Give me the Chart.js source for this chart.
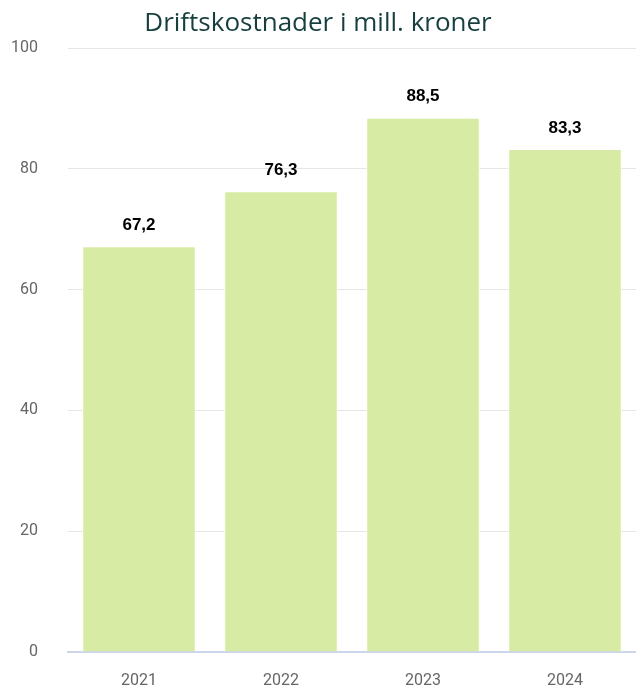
<!DOCTYPE html>
<html>
<head>
<meta charset="utf-8">
<script src="https://cdn.jsdelivr.net/npm/chart.js@4"></script>
<style>
  html, body { margin: 0; padding: 0; background: #fff; overflow: hidden; }
  canvas { display: block; }
</style>
</head>
<body>
<canvas id="costChart" width="636" height="686"></canvas>
<script>
const years = ['2021', '2022', '2023', '2024'];
const costs = [67.2, 76.3, 88.5, 83.3];
const yTicks = [0, 20, 40, 60, 80, 100];

// verdier over søylene, med komma som desimaltegn
const valueLabels = {
    id: 'valueLabels',
    afterDatasetsDraw(chart) {
        const ctx = chart.ctx;
        const meta = chart.getDatasetMeta(0);
        ctx.save();
        ctx.font = 'bold 17px "Liberation Sans", Arial, sans-serif';
        ctx.fillStyle = '#000';
        ctx.textAlign = 'center';
        ctx.textBaseline = 'middle';
        meta.data.forEach((bar, i) => {
            ctx.fillText(costs[i].toFixed(1).replace('.', ','), bar.x, bar.y - 21);
        });
        ctx.restore();
    }
};

const ctx = document.getElementById('costChart').getContext('2d');

const costChart = new Chart(ctx, {
    type: 'bar',
    data: {
        labels: years,
        datasets: [{
            label: 'Driftskostnader',
            data: costs,
            backgroundColor: '#d8eba4',
            borderColor: '#ffffff',
            borderWidth: 1,
            categoryPercentage: 1,
            barPercentage: 0.8
        }]
    },
    options: {
        responsive: false,
        animation: false,
        plugins: {
            legend: { display: false },
            tooltip: { enabled: false },
            title: {
                display: true,
                text: 'Driftskostnader i mill. kroner',
                color: '#173f3f',
                font: { family: '"Open Sans", sans-serif', size: 26, weight: 'normal' },
                padding: { top: 8, bottom: 9 }
            }
        },
        scales: {
            x: {
                grid: { display: false },
                border: { color: '#ccd6eb', width: 2 },
                ticks: {
                    color: '#666',
                    font: { family: 'Roboto, sans-serif', size: 16 },
                    padding: 11
                },
                afterFit(scale) { scale.height = 34; }
            },
            y: {
                min: 0,
                max: 100,
                afterBuildTicks(scale) { scale.ticks = yTicks.map(v => ({ value: v })); },
                grid: { color: '#e6e6e6', drawTicks: false },
                border: { display: false },
                ticks: {
                    color: '#666',
                    font: { family: 'Roboto, sans-serif', size: 16 },
                    padding: 30
                },
                afterFit(scale) {
                    scale.width = 68;
                    // tick-padding skal bare gjelde horisontalt
                    scale.paddingTop = 10;
                    scale.paddingBottom = 10;
                }
            }
        }
    },
    plugins: [valueLabels]
});
</script>
</body>
</html>
